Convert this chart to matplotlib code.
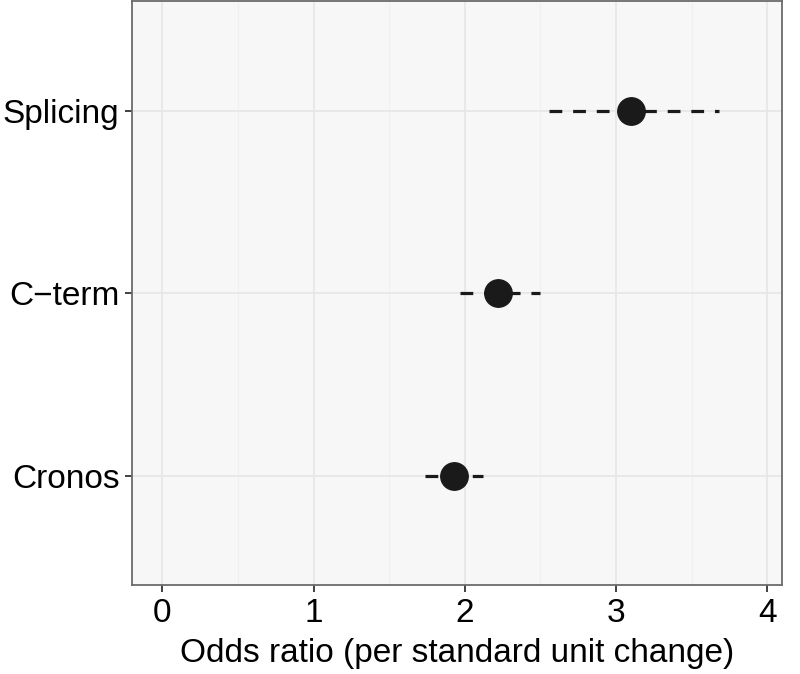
import matplotlib
matplotlib.use('Agg')
import matplotlib.pyplot as plt
from matplotlib.ticker import MultipleLocator

plt.rcParams['font.family'] = ['Liberation Sans', 'DejaVu Sans']

# values
labels = ['Cronos', 'C\u2212term', 'Splicing']
odds = [1.93, 2.22, 3.10]
ci_low = [1.74, 1.97, 2.56]
ci_high = [2.12, 2.50, 3.68]
xticks = [0, 1, 2, 3, 4]

fig = plt.figure(figsize=(8, 6.74), dpi=100)
ax = fig.add_axes([0.165, 0.132, 0.813, 0.866])
ax.set_facecolor('#f7f7f7')

ypos = range(1, len(labels) + 1)
for y, lo, hi in zip(ypos, ci_low, ci_high):
    ax.plot([lo, hi], [y, y], color='#1a1a1a', lw=2.3,
            dashes=(4.0, 3.4), zorder=2)
ax.scatter(odds, list(ypos), s=390, color='#1a1a1a', zorder=3)

ax.set_xlim(-0.2, 4.1)
ax.set_ylim(0.4, 3.6)
ax.set_xticks(xticks)
ax.set_xticklabels([str(t) for t in xticks])
ax.xaxis.set_minor_locator(MultipleLocator(0.5))
ax.set_yticks(list(ypos))
ax.set_yticklabels(labels)

ax.grid(True, which='major', color='#e6e6e6', lw=1.2, zorder=0)
ax.grid(True, which='minor', axis='x', color='#f0f0f0', lw=0.8, zorder=0)
ax.set_axisbelow(True)

for s in ax.spines.values():
    s.set_color('#6b6b6b')
    s.set_linewidth(1.3)

ax.tick_params(which='major', length=5, width=1.3, color='#333333',
               labelsize=24, labelcolor='black', pad=4)
ax.tick_params(which='minor', length=0)

ax.set_xlabel('Odds ratio (per standard unit change)', fontsize=24, labelpad=7)

fig.savefig('out.png', dpi=100)
